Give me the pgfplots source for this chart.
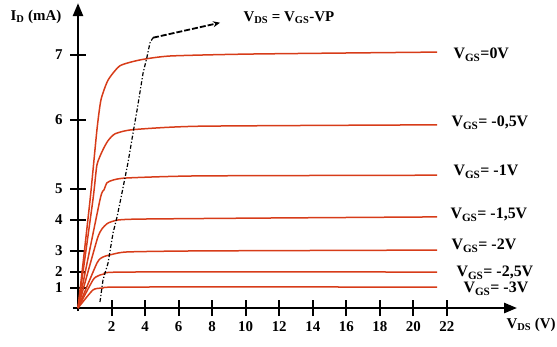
\documentclass[border=0pt]{standalone}
\usepackage{pgfplots}
\pgfplotsset{compat=1.18}
\usetikzlibrary{arrows.meta}
\usepackage{fontspec}
\setmainfont{Liberation Serif}
\definecolor{curve}{RGB}{215,60,25}
\newcommand{\lbl}{\bfseries\fontsize{15}{15}\selectfont}
\newcommand{\rlbl}{\bfseries\fontsize{16}{16}\selectfont}
\begin{document}
\begin{tikzpicture}[x=1bp,y=1bp]
\useasboundingbox (0,0) rectangle (557,346);
\begin{axis}[
  at={(78bp,38bp)}, anchor=origin,
  x=16.77bp, y=1bp,
  axis lines=middle,
  xmin=-0.3, xmax=26.18, ymin=-0.15, ymax=7.79,
  y coord trafo/.code={%
    \begingroup
    \pgfkeys{/pgf/fpu=true,/pgf/fpu/output format=fixed}%
    \pgfmathparse{(#1<1) ? 20*(#1) : ((#1<2) ? 20+16.3*(#1-1) : ((#1<3) ? 36.3+21*(#1-2) : ((#1<4) ? 57.3+30.7*(#1-3) : ((#1<5) ? 88+31*(#1-4) : ((#1<6) ? 119+69*(#1-5) : 188+65.3*(#1-6))))))}%
    \xdef\mytrafores{\pgfmathresult}%
    \endgroup
    \let\pgfmathresult\mytrafores
  },
  axis line style={line width=2.5bp, -{Triangle[length=13bp,width=10bp]}},
  xtick={2,4,...,22},
  ytick={1,2,3,4,5,6,7}, yticklabels={1,2,3,4,5,6,7},
  tick style={black, line width=2bp},
  tick align=center, major tick length=16bp,
  minor tick num=0,
  ticklabel style={font=\lbl},
  xticklabel style={yshift=-2bp},
  yticklabel style={xshift=-4bp},
  /pgf/number format/assume math mode=true,
  clip=false,
  every axis plot/.append style={smooth, tension=0.35},
]
% V_GS = 0 V
\addplot[curve, line width=1.5bp] coordinates {(0,0) (0.72,4.65) (1.13,5.86) (1.37,6.31) (1.79,6.61) (2.50,6.83) (3.70,6.92) (5.49,6.98) (10.26,7.01) (21.41,7.04)};
% V_GS = -0.5 V
\addplot[curve, line width=1.5bp] coordinates {(0,0) (0.89,4.65) (1.13,5.35) (1.49,5.57) (1.79,5.70) (2.21,5.80) (3.28,5.86) (7.27,5.91) (21.41,5.93)};
% V_GS = -1 V
\addplot[curve, line width=1.5bp] coordinates {(0,0) (1.31,4.65) (1.55,4.97) (1.73,5.09) (2.09,5.13) (2.92,5.16) (7.27,5.19) (21.41,5.20)};
% V_GS = -1.5 V
\addplot[curve, line width=1.5bp] coordinates {(0,0) (1.13,3.35) (1.43,3.71) (1.79,3.90) (2.39,4.00) (3.70,4.03) (10.26,4.06) (21.41,4.10)};
% V_GS = -2 V
\addplot[curve, line width=1.5bp] coordinates {(0,0) (1.13,2.41) (1.49,2.70) (1.91,2.80) (2.92,2.94) (7.27,2.99) (21.41,3.02)};
% V_GS = -2.5 V
\addplot[curve, line width=1.5bp] coordinates {(0,0) (0.89,1.49) (1.19,1.74) (1.55,1.86) (2.92,1.98) (21.41,1.98)};
% V_GS = -3 V
\addplot[curve, line width=1.5bp] coordinates {(0,0) (0.89,0.90) (1.49,1.00) (2.92,1.06) (21.41,1.06)};
% V_DS = V_GS - VP locus
\addplot[black, line width=1.2bp, sharp plot, dash pattern=on 4bp off 2bp on 1.2bp off 2bp] coordinates {(1.31,0.30) (1.49,1.49) (1.79,2.41) (2.09,3.58) (2.33,4.10) (2.62,4.87) (2.98,5.38) (3.28,5.81) (3.52,6.15) (3.88,6.72) (4.11,6.96) (4.29,7.18) (4.47,7.26)};
\addplot[black, line width=1.8bp, sharp plot, dash pattern=on 6bp off 2bp, -{Stealth[length=7bp,width=6bp]}] coordinates {(4.47,7.26) (8.47,7.49)};
\end{axis}
\node[anchor=west, font=\rlbl] at (450,291) {V\textsubscript{GS}=0V};
\node[anchor=west, font=\rlbl] at (448,223) {V\textsubscript{GS}= -0,5V};
\node[anchor=west, font=\rlbl] at (450,174) {V\textsubscript{GS}= -1V};
\node[anchor=west, font=\rlbl] at (447,131) {V\textsubscript{GS}= -1,5V};
\node[anchor=west, font=\rlbl] at (448,100) {V\textsubscript{GS}= -2V};
\node[anchor=west, font=\rlbl] at (453,73) {V\textsubscript{GS}= -2,5V};
\node[anchor=west, font=\rlbl] at (460,57) {V\textsubscript{GS}= -3V};
\node[anchor=west, font=\lbl] at (240,328) {V\textsubscript{DS} = V\textsubscript{GS}-VP};
\node[anchor=west, font=\lbl] at (7,329) {I\textsubscript{D} (mA)};
\node[anchor=west, font=\lbl] at (503,21) {V\textsubscript{DS} (V)};
\end{tikzpicture}
\end{document}
